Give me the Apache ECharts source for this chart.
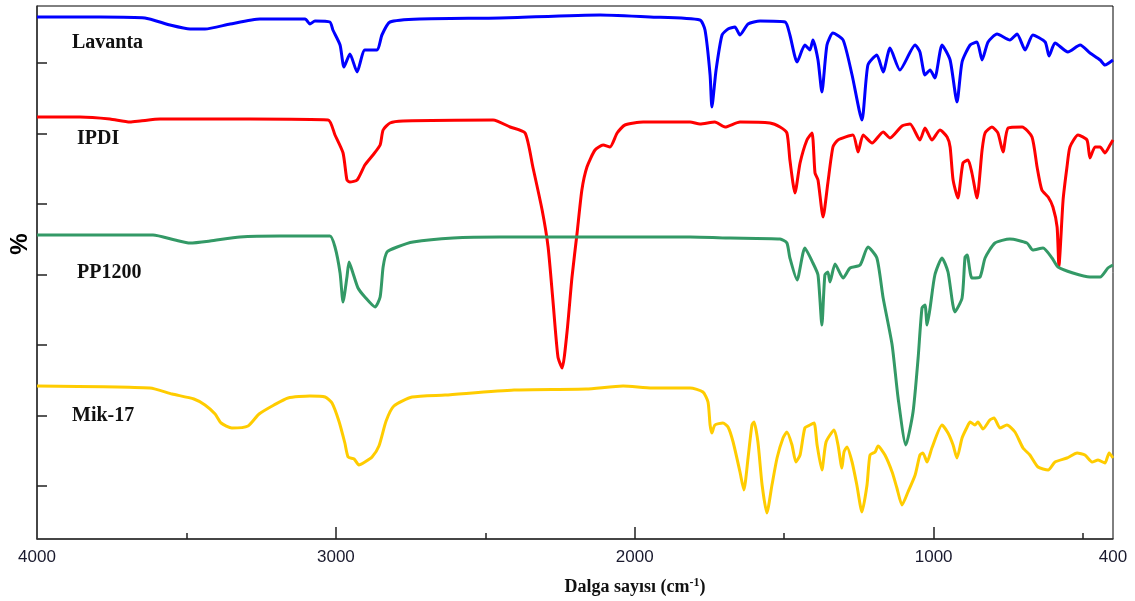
<!DOCTYPE html>
<html>
<head>
<meta charset="utf-8">
<script src="https://cdn.jsdelivr.net/npm/echarts@6/dist/echarts.min.js"></script>
<style>
html,body{margin:0;padding:0;background:#fff;}
#chart{width:1135px;height:601px;}
</style>
</head>
<body>
<div id="chart"></div>
<script>
// Wavenumbers (cm-1) and offset transmittance values (arbitrary units, axis 0..533)
const lavantaWn = [4000,3789,3639,3555,3488,3438,3354,3254,3187,3103,3087,3070,3020,3010,2986,2973,2953,2929,2903,2862,2846,2819,2719,2451,2116,1949,1782,1765,1748,1742,1728,1708,1688,1665,1648,1621,1581,1497,1481,1457,1431,1414,1404,1387,1374,1357,1337,1303,1273,1240,1220,1190,1169,1146,1113,1062,1046,1029,1012,996,972,945,922,905,878,855,838,818,788,745,721,694,668,627,614,594,551,510,477,443,427,400];
const lavantaT  = [522,522,521,514,510,510,515,520,520,520,515,518,517,509,494,472,485,467,489,489,504,517,520,521,524,522,519,509,464,432,469,504,510,512,504,515,518,517,504,477,494,489,499,479,447,494,506,499,464,419,474,484,467,491,469,494,487,464,469,461,494,479,437,477,494,497,479,497,505,499,505,489,504,497,483,496,487,494,486,479,474,479];

const ipdiWn = [4000,3856,3756,3689,3655,3588,3287,3026,3003,2976,2963,2953,2929,2903,2876,2852,2842,2819,2775,2474,2417,2367,2341,2310,2290,2274,2257,2243,2227,2210,2193,2177,2160,2133,2106,2083,2059,2033,1972,1815,1782,1732,1698,1648,1548,1514,1491,1481,1464,1447,1424,1407,1397,1387,1370,1354,1337,1320,1270,1253,1236,1206,1169,1146,1106,1079,1046,1029,1006,979,955,945,935,919,902,885,872,855,838,828,805,785,768,751,704,671,654,638,617,601,587,581,567,554,544,517,487,477,460,443,427,410,400];
const ipdiT  = [422,422,420,417,418,420,420,419,404,386,359,357,359,374,384,394,409,416,418,419,412,406,372,329,292,239,182,171,206,262,306,349,372,389,394,392,406,414,417,417,415,417,412,417,416,412,406,379,346,376,399,406,366,359,322,356,392,399,404,387,404,396,407,401,413,415,399,411,399,409,402,392,359,341,376,379,366,341,389,406,412,406,387,411,412,402,372,349,342,332,312,273,339,372,392,404,399,381,392,392,386,394,399];

const ppWn = [4000,3612,3538,3488,3421,3321,3187,3020,3003,2986,2976,2963,2956,2943,2926,2903,2869,2852,2842,2829,2795,2742,2608,2451,1815,1681,1514,1491,1481,1457,1431,1404,1387,1374,1364,1354,1347,1330,1303,1280,1246,1220,1190,1169,1139,1119,1093,1069,1052,1039,1029,1022,1012,996,972,952,929,905,895,888,872,845,828,795,745,688,668,634,604,584,534,477,443,417,400];
const ppT  = [304,304,299,296,298,302,303,303,292,266,237,262,277,266,251,242,232,242,272,287,292,297,301,302,302,301,300,296,281,259,291,276,264,214,264,267,257,275,261,271,274,292,281,241,194,141,94,127,181,231,234,214,231,264,281,267,227,241,282,284,261,262,281,296,300,296,289,291,281,272,266,262,262,271,274];

const mikWn = [4000,3622,3548,3475,3438,3404,3384,3348,3294,3257,3207,3160,3087,3036,3013,2990,2970,2959,2939,2923,2903,2879,2856,2832,2806,2745,2635,2404,2163,2039,1942,1815,1772,1755,1748,1742,1732,1705,1688,1671,1648,1635,1621,1608,1601,1588,1574,1558,1541,1524,1504,1491,1474,1461,1447,1431,1414,1400,1390,1374,1360,1333,1320,1307,1300,1290,1273,1257,1240,1223,1213,1196,1186,1163,1139,1123,1106,1086,1062,1046,1036,1022,1006,972,952,935,922,905,888,878,862,852,835,812,798,778,755,728,701,678,651,617,594,554,520,494,470,450,427,413,400];
const mikT  = [153,151,145,140,134,125,116,111,113,125,134,141,143,142,136,118,96,82,80,74,77,82,93,118,133,142,144,149,150,153,151,151,147,137,114,106,114,116,112,97,67,49,81,114,117,97,54,26,54,81,101,107,94,77,84,111,114,116,94,69,97,109,94,71,87,92,77,54,27,54,84,87,93,84,67,51,34,47,64,84,86,77,91,114,106,94,81,101,112,117,114,117,110,119,121,111,114,107,91,84,72,69,77,81,86,84,77,79,76,86,81];

const seriesNames = ['Lavanta','IPDI','PP1200','Mik-17'];
const seriesColors = ['#0000ff','#ff0000','#339966','#ffcc00'];
const xMajorLabels = [4000,3000,2000,1000,400];
const xMajorTicks = [3000,2000,1000];
const xMinorTicks = [3500,2500,1500,500];
const yTicks = [53,123.5,194,264.5,335,405.5,476];

const zip = (a,b) => a.map((x,i)=>[x,b[i]]);
const allData = [zip(lavantaWn,lavantaT), zip(ipdiWn,ipdiT), zip(ppWn,ppT), zip(mikWn,mikT)];

const chart = echarts.init(document.getElementById('chart'));
chart.setOption({
  animation:false,
  backgroundColor:'#fff',
  grid:{left:37,right:22,top:6,bottom:62,show:true,borderColor:'#000',borderWidth:1,backgroundColor:'transparent'},
  xAxis:[{
    type:'value',min:400,max:4000,inverse:true,position:'bottom',
    axisLine:{show:true,lineStyle:{color:'#333',width:1.5}},
    axisTick:{show:true,inside:true,length:12,customValues:xMajorTicks,lineStyle:{color:'#222',width:1.5}},
    axisLabel:{show:true,customValues:xMajorLabels,formatter:v=>String(v),fontSize:17,color:'#1a1a2e',fontFamily:'Liberation Sans, Arial',margin:10},
    splitLine:{show:false},
    name:'{b|Dalga sayısı (cm}{s|-1}{b|)}',nameLocation:'middle',nameGap:38,
    nameTextStyle:{padding:[0,0,0,120],rich:{
      b:{fontSize:18,fontWeight:'bold',fontFamily:'Liberation Serif, Times New Roman',color:'#111'},
      s:{fontSize:12,fontWeight:'bold',fontFamily:'Liberation Serif, Times New Roman',color:'#111',verticalAlign:'top',padding:[0,0,8,0]}
    }}
  },{
    type:'value',min:400,max:4000,inverse:true,position:'bottom',
    axisLine:{show:false},
    axisTick:{show:true,inside:true,length:6,customValues:xMinorTicks,lineStyle:{color:'#222',width:1.5}},
    axisLabel:{show:false,customValues:xMinorTicks},
    splitLine:{show:false}
  }],
  yAxis:{
    type:'value',min:0,max:533,
    axisLine:{show:true,lineStyle:{color:'#333',width:1.5}},
    axisTick:{show:true,inside:true,length:10,customValues:yTicks,lineStyle:{color:'#222',width:1.5}},
    axisLabel:{show:false,customValues:yTicks},
    splitLine:{show:false}
  },
  series: allData.map((d,i)=>({
    type:'line',name:seriesNames[i],data:d,showSymbol:false,smooth:0.2,
    lineStyle:{color:seriesColors[i],width:3},
    z: 2 + i
  })),
  graphic:[
    {type:'text',left:72,top:33,style:{text:seriesNames[0],font:'bold 20px "Liberation Serif", serif',fill:'#111'}},
    {type:'text',left:77,top:129,style:{text:seriesNames[1],font:'bold 20px "Liberation Serif", serif',fill:'#111'}},
    {type:'text',left:77,top:263,style:{text:seriesNames[2],font:'bold 20px "Liberation Serif", serif',fill:'#111'}},
    {type:'text',left:72,top:406,style:{text:seriesNames[3],font:'bold 20px "Liberation Serif", serif',fill:'#111'}},
    {type:'text',x:20,y:244,rotation:Math.PI/2,style:{text:'%',font:'bold 24px "Liberation Sans", Arial',fill:'#000',align:'center',verticalAlign:'middle'}}
  ]
});
</script>
</body>
</html>
